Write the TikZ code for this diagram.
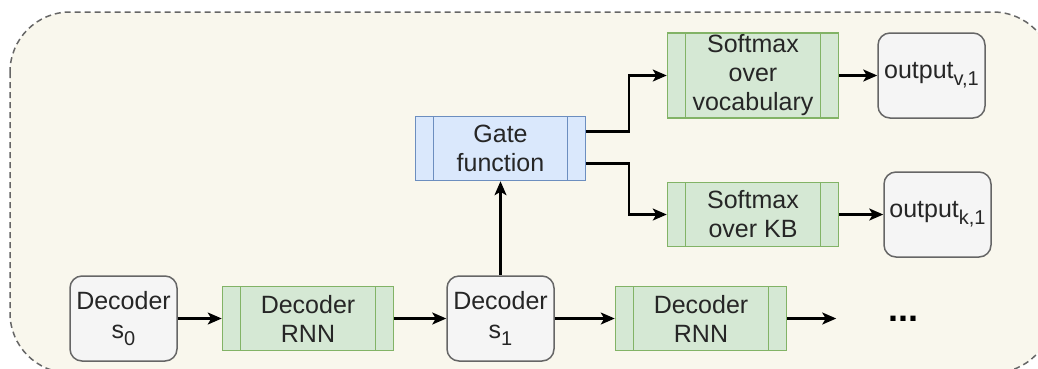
\documentclass[tikz,border=0pt]{standalone}
\usepackage{fontspec}
\setmainfont{Liberation Sans}
\usetikzlibrary{arrows.meta, positioning}

\definecolor{statefill}{HTML}{F5F5F5}
\definecolor{stateline}{HTML}{666666}
\definecolor{rnnfill}{HTML}{D5E8D4}
\definecolor{rnnline}{HTML}{82B366}
\definecolor{gatefill}{HTML}{DAE8FC}
\definecolor{gateline}{HTML}{6C8EBF}
\definecolor{framefill}{HTML}{F9F7ED}
\definecolor{textgray}{HTML}{262626}

% draw.io style subscript: large and well lowered
\newcommand{\lowsub}[1]{\raisebox{-7pt}{\fontsize{20}{20}\selectfont #1}}

\begin{document}
\begin{tikzpicture}[x=1pt,y=1pt,->,>={Stealth[length=14pt,width=12pt,inset=3.5pt]},line width=2.2pt,
  font=\fontsize{25}{29}\selectfont,
  frame/.style={rounded corners=60pt,draw=stateline,fill=framefill,line width=1.5pt,dash pattern=on 6pt off 4pt},
  side lines/.style={path picture={\draw[-,#1,line width=1.5pt]
      ([xshift=18pt]path picture bounding box.north west) -- ([xshift=18pt]path picture bounding box.south west)
      ([xshift=-18pt]path picture bounding box.north east) -- ([xshift=-18pt]path picture bounding box.south east);}},
  state node/.style={rectangle,rounded corners=12pt,draw=stateline,fill=statefill,line width=1.5pt,
    minimum width=107pt,minimum height=85pt,inner sep=2pt,align=center,text=textgray},
  rnn node/.style={rectangle,draw=rnnline,fill=rnnfill,line width=1.5pt,side lines=rnnline,
    minimum width=171pt,minimum height=64pt,inner sep=1pt,align=center,text=textgray},
  gate node/.style={rectangle,draw=gateline,fill=gatefill,line width=1.5pt,side lines=gateline,
    minimum width=170pt,minimum height=64pt,inner sep=1pt,align=center,text=textgray}]
  \useasboundingbox (0,0) rectangle (1038,-368);
  \clip (0,0) rectangle (1038,-368);
  \draw[frame] (10,-12) rectangle (1053,-373);

  % decoder chain
  \node[state node] (s0) at (123.5,-318.5) {Decoder\\s\lowsub{0}};
  \node[rnn node] (rnn1) [right=44pt of s0] {Decoder\\RNN};
  \node[state node] (s1) [right=52pt of rnn1] {Decoder\\s\lowsub{1}};
  \node[rnn node] (rnn2) [right=60pt of s1] {Decoder\\RNN};
  \coordinate[right=49pt of rnn2] (tail);
  \node (dots) [right=51pt of tail, inner sep=0pt, font=\bfseries\fontsize{36}{36}\selectfont] {...};

  % gate and outputs
  \node[gate node] (gate) [above=94pt of s1] {Gate\\function};
  \node[rnn node, minimum height=85pt] (softvoc) at (753,-75.5) {Softmax\\over\\vocabulary};
  \node[rnn node] (softkb) [below=63pt of softvoc] {Softmax\\over KB};
  \node[state node] (outv) [right=38pt of softvoc] {output\lowsub{v,1}};
  \node[state node] (outk) [right=44pt of softkb] {output\lowsub{k,1}};

  \draw (s0) -- (rnn1);
  \draw (rnn1) -- (s1);
  \draw (s1) -- (rnn2);
  \draw (rnn2) -- (tail);
  \draw (s1) -- (gate);
  \draw ([yshift=17pt]gate.east) -- ++(43pt,0) |- (softvoc.west);
  \draw ([yshift=-15pt]gate.east) -- ++(43pt,0) |- (softkb.west);
  \draw (softvoc) -- (outv);
  \draw (softkb) -- (outk);
\end{tikzpicture}
\end{document}
